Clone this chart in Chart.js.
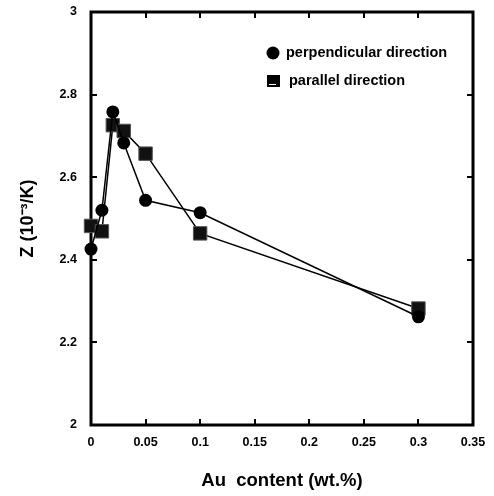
<!DOCTYPE html>
<html>
<head>
    <title>Z vs Au content</title>
    <script src="https://cdn.jsdelivr.net/npm/chart.js@4.4.1/dist/chart.umd.min.js"></script>
    <style>
        body {
            margin: 0;
            background: #FFFFFF;
        }
        #chart-div {
            width: 494px;
            height: 496px;
        }
    </style>
</head>
<body>
    <div id="chart-div"><canvas id="chart" width="494" height="496"></canvas></div>

<script type="text/javascript">
    // Au content (wt.%)
    let au_content = [0, 0.01, 0.02, 0.03, 0.05, 0.1, 0.3];
    // Z (10^-3/K)
    let z_perpendicular = [2.426, 2.52, 2.758, 2.683, 2.544, 2.514, 2.262];
    let z_parallel = [2.482, 2.469, 2.726, 2.712, 2.657, 2.464, 2.282];
    let series_labels = ['perpendicular direction', 'parallel direction'];
    let x_ticks = [0, 0.05, 0.1, 0.15, 0.2, 0.25, 0.3, 0.35];
    let y_ticks = [2, 2.2, 2.4, 2.6, 2.8, 3];

    const FONT = '"Liberation Sans", Arial, sans-serif';

    function toPoints(ys) {
        return au_content.map((x, i) => ({x: x, y: ys[i]}));
    }

    // frame with inward ticks on all four sides, drawn under the data
    let frameTicks = {
        id: 'frameTicks',
        beforeDatasetsDraw(chart) {
            let ctx = chart.ctx;
            let a = chart.chartArea;
            let xs = chart.scales.x, ys = chart.scales.y;
            ctx.save();
            ctx.strokeStyle = '#000';
            ctx.lineWidth = 2;
            x_ticks.forEach(v => {
                let px = Math.round(xs.getPixelForValue(v));
                ctx.beginPath();
                ctx.moveTo(px, a.bottom); ctx.lineTo(px, a.bottom - 6);
                ctx.moveTo(px, a.top); ctx.lineTo(px, a.top + 6);
                ctx.stroke();
            });
            y_ticks.forEach(v => {
                let py = Math.round(ys.getPixelForValue(v));
                ctx.beginPath();
                ctx.moveTo(a.left, py); ctx.lineTo(a.left + 6, py);
                ctx.moveTo(a.right, py); ctx.lineTo(a.right - 6, py);
                ctx.stroke();
            });
            ctx.lineWidth = 3;
            ctx.strokeRect(a.left, a.top, a.right - a.left, a.bottom - a.top);
            ctx.restore();
        }
    };

    // legend drawn inside the plot, top right
    let insideLegend = {
        id: 'insideLegend',
        afterDraw(chart) {
            let ctx = chart.ctx;
            ctx.save();
            ctx.fillStyle = '#000';
            ctx.font = 'bold 14.5px ' + FONT;
            ctx.textBaseline = 'middle';
            // circle
            ctx.beginPath();
            ctx.arc(273, 53, 6.5, 0, Math.PI * 2);
            ctx.fill();
            ctx.fillText(chart.data.datasets[0].label, 286, 53);
            // square
            ctx.fillRect(267, 75, 13, 12);
            ctx.fillStyle = '#fff';
            ctx.fillRect(269, 84, 7, 1);
            ctx.fillStyle = '#000';
            ctx.fillText(chart.data.datasets[1].label, 289, 81);
            ctx.restore();
        }
    };

    let chart = new Chart(document.getElementById('chart').getContext('2d'), {
        type: 'scatter',
        data: {
            datasets: [
                {
                    label: series_labels[0],
                    data: toPoints(z_perpendicular),
                    showLine: true,
                    clip: false,
                    borderColor: '#000',
                    borderWidth: 1.5,
                    backgroundColor: '#000',
                    pointStyle: 'circle',
                    pointRadius: 6.5,
                    pointBorderWidth: 0
                },
                {
                    label: series_labels[1],
                    data: toPoints(z_parallel),
                    showLine: true,
                    clip: false,
                    borderColor: '#000',
                    borderWidth: 1.5,
                    backgroundColor: '#111',
                    pointStyle: 'rect',
                    pointRadius: 9.5,
                    pointBorderWidth: 1,
                    pointBorderColor: '#555'
                }
            ]
        },
        options: {
            responsive: false,
            animation: false,
            layout: {padding: {left: 0, right: 21, top: 12, bottom: 0}},
            plugins: {
                legend: {display: false},
                tooltip: {enabled: false}
            },
            scales: {
                x: {
                    type: 'linear',
                    min: 0,
                    max: 0.35,
                    afterBuildTicks: s => { s.ticks = x_ticks.map(v => ({value: v})); },
                    afterFit: s => { s.height = 71; s.paddingLeft = 0; s.paddingRight = 0; },
                    grid: {display: false, drawTicks: false},
                    border: {display: false},
                    ticks: {
                        color: '#000',
                        padding: 10,
                        font: {family: FONT, size: 12.5, weight: 'bold'},
                        callback: v => String(v)
                    },
                    title: {
                        display: true,
                        text: 'Au  content (wt.%)',
                        color: '#000',
                        font: {family: FONT, size: 18.5, weight: 'bold'},
                        padding: {top: 14, bottom: 4}
                    }
                },
                y: {
                    type: 'linear',
                    min: 2,
                    max: 3,
                    afterBuildTicks: s => { s.ticks = y_ticks.map(v => ({value: v})); },
                    afterFit: s => { s.width = 91; s.paddingTop = 0; s.paddingBottom = 0; },
                    grid: {display: false, drawTicks: false},
                    border: {display: false},
                    ticks: {
                        color: '#000',
                        padding: 14,
                        font: {family: FONT, size: 12.5, weight: 'bold'},
                        callback: v => String(v)
                    },
                    title: {
                        display: true,
                        text: 'Z (10\u207B\u00B3/K)',
                        color: '#000',
                        font: {family: FONT, size: 18, weight: 'bold'},
                        padding: {top: 17, bottom: 0}
                    }
                }
            }
        },
        plugins: [frameTicks, insideLegend]
    });
</script>

</body>
</html>
